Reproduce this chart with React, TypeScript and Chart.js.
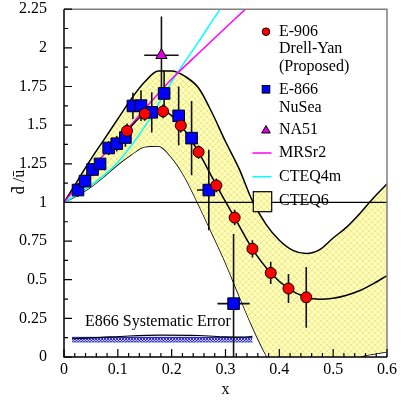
import React, { useEffect, useRef } from 'react';
import { Chart, registerables } from 'chart.js';
Chart.register(...registerables);

// ---- data ----
const e906X = [0.117, 0.15, 0.184, 0.217, 0.25, 0.283, 0.317, 0.35, 0.384, 0.417, 0.45];
const e906Y = [1.463, 1.573, 1.589, 1.497, 1.326, 1.11, 0.902, 0.7, 0.544, 0.443, 0.386];
const e906Err = [0.048, 0.045, 0.045, 0.045, 0.043, 0.045, 0.05, 0.056, 0.072, 0.094, 0.197];

const e866X = [0.026, 0.039, 0.053, 0.067, 0.083, 0.098, 0.114, 0.128, 0.143, 0.163, 0.186, 0.213, 0.237, 0.269, 0.315];
const e866Y = [1.08, 1.138, 1.213, 1.249, 1.352, 1.38, 1.42, 1.624, 1.626, 1.583, 1.705, 1.56, 1.416, 1.08, 0.345];
const e866ErrY = [0.045, 0.04, 0.04, 0.04, 0.045, 0.05, 0.06, 0.085, 0.1, 0.13, 0.15, 0.19, 0.24, 0.26, 0.45];
const e866ErrX = [0, 0, 0, 0, 0, 0, 0, 0, 0, 0.008, 0.011, 0.011, 0.011, 0.022, 0.03];

const na51X = [0.181];
const na51Y = [1.952];
const na51ErrY = [0.25];
const na51ErrX = [0.032];

const centerX = [0.117, 0.15, 0.184, 0.217, 0.25, 0.283, 0.317, 0.35, 0.384, 0.417, 0.45, 0.475, 0.5, 0.525, 0.55, 0.575, 0.6];
const centerY = [1.463, 1.573, 1.589, 1.497, 1.326, 1.11, 0.902, 0.7, 0.544, 0.443, 0.386, 0.373, 0.38, 0.4, 0.43, 0.475, 0.527];

const mrsX = [0, 0.058, 0.114, 0.16, 0.2005, 0.253, 0.3, 0.337, 0.35];
const mrsY = [1, 1.245, 1.459, 1.645, 1.8, 1.975, 2.13, 2.25, 2.293];

const cteq4X = [0, 0.05, 0.1, 0.15, 0.2, 0.25, 0.29, 0.3];
const cteq4Y = [1, 1.11, 1.26, 1.49, 1.78, 2.04, 2.25, 2.3];

const bandX = [0, 0.025, 0.05, 0.075, 0.1, 0.125, 0.15, 0.175, 0.2, 0.225, 0.25, 0.275, 0.3, 0.325, 0.35, 0.375, 0.4, 0.425, 0.45, 0.475, 0.5, 0.525, 0.55, 0.575, 0.6];
const bandUpper = [1.0, 1.14, 1.28, 1.41, 1.54, 1.67, 1.78, 1.85, 1.85, 1.815, 1.74, 1.58, 1.394, 1.22, 1.01, 0.86, 0.755, 0.69, 0.67, 0.695, 0.77, 0.84, 0.93, 1.03, 1.12];
const bandLower = [1.0, 1.045, 1.1, 1.17, 1.245, 1.31, 1.36, 1.365, 1.29, 1.16, 0.985, 0.8, 0.61, 0.4, 0.195, 0.015, -0.12, -0.17, -0.19, -0.18, -0.13, -0.06, 0.0, 0.02, 0.034];

const unityX = [0, 0.6];
const unityY = [1, 1];

const sysBandX = [0.015, 0.35];
const sysLow = [0.098, 0.098];
const sysHigh = [0.127, 0.127];
const sysLineX = [0.015, 0.06, 0.12, 0.18, 0.25, 0.3, 0.33, 0.35];
const sysLineY = [0.118, 0.125, 0.136, 0.141, 0.139, 0.13, 0.128, 0.133];

const xTicks = [0, 0.1, 0.2, 0.3, 0.4, 0.5, 0.6];
const yTicks = [0, 0.25, 0.5, 0.75, 1, 1.25, 1.5, 1.75, 2, 2.25];

const FONT = "'Liberation Serif', 'Times New Roman', serif";

const pts = (xs: number[], ys: number[]) => xs.map((x, i) => ({ x, y: ys[i] }));

function makeHatch(bg: string, fg: string, size: number) {
  const c = document.createElement('canvas');
  c.width = size;
  c.height = size;
  const g = c.getContext('2d')!;
  g.fillStyle = bg;
  g.fillRect(0, 0, size, size);
  g.strokeStyle = fg;
  g.lineWidth = 1;
  g.beginPath();
  g.moveTo(0, 0);
  g.lineTo(size, size);
  g.moveTo(size, 0);
  g.lineTo(0, size);
  g.stroke();
  return g.createPattern(c, 'repeat')!;
}

const errorSets = [
  { xs: e906X, ys: e906Y, ey: e906Err, ex: null as number[] | null },
  { xs: e866X, ys: e866Y, ey: e866ErrY, ex: e866ErrX },
  { xs: na51X, ys: na51Y, ey: na51ErrY, ex: na51ErrX },
];

export default function App() {
  const ref = useRef<HTMLCanvasElement>(null);
  useEffect(() => {
    document.body.style.margin = '0';
    const canvas = ref.current!;
    const yellow = makeHatch('#ffffb8', '#efea96', 6);
    const blue = makeHatch('#c4c4ff', '#3434e6', 3);

    const errorBars = {
      id: 'errorBars',
      beforeDatasetDraw(chart: any, args: any) {
        if (args.index !== 2) return;
        const { ctx, chartArea: a, scales } = chart;
        const sx = scales.x, sy = scales.y;
        ctx.save();
        ctx.beginPath();
        ctx.rect(a.left, a.top, a.right - a.left, a.bottom - a.top);
        ctx.clip();
        ctx.strokeStyle = '#111';
        ctx.lineWidth = 1.6;
        for (const s of errorSets) {
          s.xs.forEach((xv, i) => {
            const yv = s.ys[i];
            const px = sx.getPixelForValue(xv);
            const py = sy.getPixelForValue(yv);
            ctx.beginPath();
            ctx.moveTo(px, sy.getPixelForValue(yv + s.ey[i]));
            ctx.lineTo(px, sy.getPixelForValue(yv - s.ey[i]));
            if (s.ex && s.ex[i] > 0) {
              ctx.moveTo(sx.getPixelForValue(xv - s.ex[i]), py);
              ctx.lineTo(sx.getPixelForValue(xv + s.ex[i]), py);
            }
            ctx.stroke();
          });
        }
        ctx.restore();
      },
    };

    const decor = {
      id: 'decor',
      afterDraw(chart: any) {
        const { ctx, chartArea: a, scales } = chart;
        const sx = scales.x, sy = scales.y;
        ctx.save();
        // frame
        ctx.lineWidth = 1.5;
        ctx.strokeStyle = '#808080';
        ctx.beginPath();
        ctx.moveTo(a.left, a.top);
        ctx.lineTo(a.right, a.top);
        ctx.lineTo(a.right, a.bottom);
        ctx.stroke();
        ctx.strokeStyle = '#000';
        ctx.beginPath();
        ctx.moveTo(a.left, a.top);
        ctx.lineTo(a.left, a.bottom);
        ctx.lineTo(a.right, a.bottom);
        ctx.stroke();
        // inner ticks
        ctx.lineWidth = 1.2;
        ctx.beginPath();
        for (let k = 0; k <= 30; k++) {
          const v = k * 0.02;
          const px = sx.getPixelForValue(v);
          const len = k % 5 === 0 ? 8 : 4;
          ctx.moveTo(px, a.bottom);
          ctx.lineTo(px, a.bottom - len);
        }
        for (let k = 0; k <= 18; k++) {
          const v = k * 0.125;
          const py = sy.getPixelForValue(v);
          const len = k % 2 === 0 ? 8 : 4;
          ctx.moveTo(a.left, py);
          ctx.lineTo(a.left + len, py);
        }
        ctx.stroke();

        // axis titles
        ctx.fillStyle = '#000';
        ctx.font = `16px ${FONT}`;
        ctx.textAlign = 'center';
        ctx.textBaseline = 'middle';
        ctx.fillText('x', (a.left + a.right) / 2, 390);
        ctx.save();
        ctx.translate(20, 182);
        ctx.rotate(-Math.PI / 2);
        ctx.fillText('d\u0304 /\u016B', 0, 0);
        ctx.restore();

        // systematic error label
        ctx.textAlign = 'left';
        ctx.fillText('E866 Systematic Error', sx.getPixelForValue(0.039), sy.getPixelForValue(0.227));

        // legend
        const mx = 266, tx = 279;
        ctx.lineWidth = 1;
        ctx.strokeStyle = '#000';
        ctx.fillStyle = '#ff0000';
        ctx.beginPath();
        ctx.arc(mx, 31.7, 3.8, 0, Math.PI * 2);
        ctx.fill();
        ctx.stroke();
        ctx.fillStyle = '#0000ff';
        ctx.fillRect(mx - 3.8, 89.3 - 3.8, 7.6, 7.6);
        ctx.strokeRect(mx - 3.8, 89.3 - 3.8, 7.6, 7.6);
        ctx.fillStyle = '#dd00dd';
        ctx.beginPath();
        ctx.moveTo(mx, 125.5);
        ctx.lineTo(mx + 4.3, 133);
        ctx.lineTo(mx - 4.3, 133);
        ctx.closePath();
        ctx.fill();
        ctx.stroke();
        ctx.lineWidth = 1.5;
        ctx.strokeStyle = '#ff00ff';
        ctx.beginPath();
        ctx.moveTo(252.5, 153);
        ctx.lineTo(271.5, 153);
        ctx.stroke();
        ctx.strokeStyle = '#00ffff';
        ctx.beginPath();
        ctx.moveTo(252.5, 176.7);
        ctx.lineTo(271.5, 176.7);
        ctx.stroke();
        ctx.fillStyle = yellow;
        ctx.fillRect(253.3, 191.7, 18.4, 20);
        ctx.strokeStyle = '#000';
        ctx.lineWidth = 1.2;
        ctx.strokeRect(253.3, 191.7, 18.4, 20);

        ctx.fillStyle = '#000';
        ctx.textAlign = 'left';
        ctx.textBaseline = 'middle';
        const labels: [string, number][] = [
          ['E-906', 31.7],
          ['Drell-Yan', 49.2],
          ['(Proposed)', 66.7],
          ['E-866', 89.3],
          ['NuSea', 107.7],
          ['NA51', 130],
          ['MRSr2', 153],
          ['CTEQ4m', 176.7],
          ['CTEQ6', 200.5],
        ];
        for (const [t, y] of labels) ctx.fillText(t, tx, y);
        ctx.restore();
      },
    };

    const lineBase = { pointRadius: 0, showLine: true, fill: false, cubicInterpolationMode: 'monotone' as const };

    const chart = new Chart(canvas, {
      type: 'line',
      data: {
        datasets: [
          {
            label: 'E-906', data: pts(e906X, e906Y), showLine: false, pointStyle: 'circle', pointRadius: 5.5,
            pointBackgroundColor: '#ff0000', pointBorderColor: '#000', pointBorderWidth: 1, order: 0,
          },
          {
            label: 'E-866', data: pts(e866X, e866Y), showLine: false, pointStyle: 'rect', pointRadius: 8.2,
            pointBackgroundColor: '#0000ff', pointBorderColor: '#000', pointBorderWidth: 1, order: 1,
          },
          {
            label: 'NA51', data: pts(na51X, na51Y), showLine: false, pointStyle: 'triangle', pointRadius: 6.5,
            pointBackgroundColor: '#dd00dd', pointBorderColor: '#000', pointBorderWidth: 1, order: 2,
          },
          { ...lineBase, label: 'center', data: pts(centerX, centerY), borderColor: '#000', borderWidth: 1.5, order: 3 },
          { ...lineBase, label: 'MRSr2', data: pts(mrsX, mrsY), borderColor: '#ff00ff', borderWidth: 1.5, order: 4 },
          { ...lineBase, label: 'CTEQ4m', data: pts(cteq4X, cteq4Y), borderColor: '#00ffff', borderWidth: 1.5, order: 5 },
          { ...lineBase, label: 'unity', data: pts(unityX, unityY), borderColor: '#000', borderWidth: 1.2, order: 6 },
          { ...lineBase, label: 'sysLine', data: pts(sysLineX, sysLineY), borderColor: '#000', borderWidth: 1.2, order: 7 },
          {
            ...lineBase, label: 'sysHigh', data: pts(sysBandX, sysHigh), borderColor: '#1a1a90', borderWidth: 1,
            fill: '+1', backgroundColor: blue, order: 8,
          },
          { ...lineBase, label: 'sysLow', data: pts(sysBandX, sysLow), borderColor: '#1a1a90', borderWidth: 1, order: 9 },
          {
            ...lineBase, label: 'CTEQ6 upper', data: pts(bandX, bandUpper), borderColor: '#000', borderWidth: 1.5,
            fill: '+1', backgroundColor: yellow, order: 10,
          },
          { ...lineBase, label: 'CTEQ6 lower', data: pts(bandX, bandLower), borderColor: '#000', borderWidth: 1.5, order: 11 },
        ] as any,
      },
      options: {
        responsive: false,
        animation: false,
        devicePixelRatio: 1,
        layout: { padding: { top: 7, right: 16, bottom: 0, left: 0 } },
        plugins: { legend: { display: false }, tooltip: { enabled: false } },
        scales: {
          x: {
            type: 'linear', min: 0, max: 0.6,
            afterFit: (s: any) => { s.height = 46; s.paddingLeft = 0; s.paddingRight = 0; },
            afterBuildTicks: (s: any) => { s.ticks = xTicks.map((v) => ({ value: v })); },
            grid: { display: false, drawTicks: false },
            border: { display: false },
            ticks: {
              padding: 3, color: '#000', font: { family: FONT, size: 16 },
              callback: (v: any) => String(Number(Number(v).toFixed(2))),
            },
          },
          y: {
            type: 'linear', min: 0, max: 2.25,
            afterFit: (s: any) => { s.width = 64; s.paddingTop = 0; s.paddingBottom = 0; },
            afterBuildTicks: (s: any) => { s.ticks = yTicks.map((v) => ({ value: v })); },
            grid: { display: false, drawTicks: false },
            border: { display: false },
            ticks: {
              padding: 17, color: '#000', font: { family: FONT, size: 16 },
              callback: (v: any) => String(Number(Number(v).toFixed(2))),
            },
          },
        },
      } as any,
      plugins: [errorBars, decor],
    });
    return () => chart.destroy();
  }, []);
  return (
    <div style={{ width: 403, height: 403 }}>
      <canvas ref={ref} width={403} height={403} style={{ display: 'block' }} />
    </div>
  );
}
